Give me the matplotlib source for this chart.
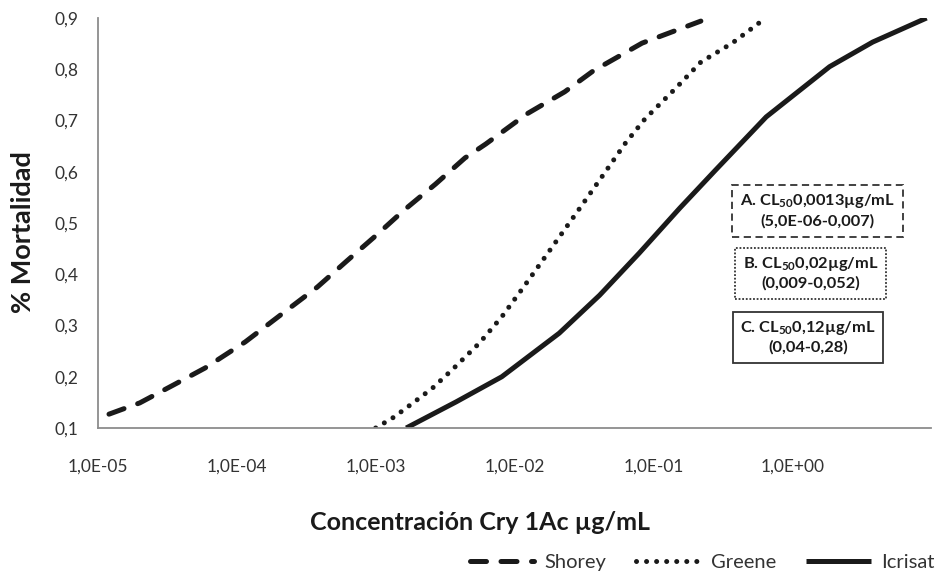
import matplotlib
matplotlib.use("Agg")
import matplotlib.pyplot as plt
from matplotlib.ticker import FixedLocator
from matplotlib.patches import Rectangle

plt.rcParams['font.family'] = ['Lato', 'DejaVu Sans']
plt.rcParams['mathtext.fontset'] = 'custom'
plt.rcParams['mathtext.rm'] = 'Lato'
plt.rcParams['mathtext.bf'] = 'Lato:bold'

# ---- data ----
shorey_x = [1.2e-5, 2.0e-5, 3.5e-5, 5.9e-5, 1.15e-4, 2.1e-4, 3.8e-4, 6.2e-4, 1.0e-3,
            1.6e-3, 2.7e-3, 4.4e-3, 6.2e-3, 1.23e-2, 2.3e-2, 3.7e-2, 8.3e-2, 0.22]
shorey_y = [0.127, 0.149, 0.184, 0.217, 0.268, 0.322, 0.375, 0.426, 0.475,
            0.525, 0.576, 0.627, 0.654, 0.713, 0.756, 0.797, 0.851, 0.894]

greene_x = [1.0e-3, 1.35e-3, 1.86e-3, 2.57e-3, 3.6e-3, 5.6e-3, 8.1e-3, 1.12e-2, 1.51e-2,
            2.8e-2, 4.6e-2, 6.3e-2, 8.7e-2, 0.145, 0.22, 0.37, 0.63]
greene_y = [0.100, 0.121, 0.149, 0.178, 0.215, 0.266, 0.317, 0.369, 0.418,
            0.520, 0.603, 0.656, 0.703, 0.763, 0.814, 0.851, 0.898]

icrisat_x = [1.66e-3, 3.8e-3, 8.1e-3, 2.1e-2, 4.1e-2, 7.9e-2, 0.155, 0.28,
             0.65, 1.86, 3.8, 9.3]
icrisat_y = [0.100, 0.151, 0.200, 0.285, 0.359, 0.441, 0.529, 0.603,
             0.707, 0.805, 0.853, 0.900]

x_ticks = [1e-5, 1e-4, 1e-3, 1e-2, 1e-1, 1e0]
x_tick_labels = ['1,0E-05', '1,0E-04', '1,0E-03', '1,0E-02', '1,0E-01', '1,0E+00']
y_ticks = [0.1, 0.2, 0.3, 0.4, 0.5, 0.6, 0.7, 0.8, 0.9]
y_tick_labels = ['0,1', '0,2', '0,3', '0,4', '0,5', '0,6', '0,7', '0,8', '0,9']

series_names = ['Shorey', 'Greene', 'Icrisat']
box_lines = [
    ("A. CL$_{\\mathbf{50}}$0,0013µg/mL", "(5,0E-06-0,007)"),
    ("B. CL$_{\\mathbf{50}}$0,02µg/mL", "(0,009-0,052)"),
    ("C. CL$_{\\mathbf{50}}$0,12µg/mL", "(0,04-0,28)"),
]

# ---- figure ----
W, H = 943, 571
fig = plt.figure(figsize=(W / 100, H / 100), dpi=100)
ax = fig.add_axes([98 / W, 1 - 428 / H, (931 - 98) / W, (428 - 18) / H])

lw = 3.6
col = '#1a1a1a'
l1, = ax.plot(shorey_x, shorey_y, color=col, lw=lw, dash_capstyle='round',
              linestyle=(0, (3.2, 2.9)), solid_joinstyle='round')
l2, = ax.plot(greene_x, greene_y, color=col, lw=lw, dash_capstyle='round',
              linestyle=(0, (0.01, 2.0)))
l3, = ax.plot(icrisat_x, icrisat_y, color=col, lw=lw, solid_capstyle='butt',
              solid_joinstyle='round')

ax.set_xscale('log')
ax.set_xlim(1e-5, 10)
ax.set_ylim(0.1, 0.9)
ax.xaxis.set_major_locator(FixedLocator(x_ticks))
ax.xaxis.set_minor_locator(FixedLocator([]))
ax.set_xticklabels(x_tick_labels)
ax.set_yticks(y_ticks)
ax.set_yticklabels(y_tick_labels)
ax.tick_params(axis='both', length=0, labelsize=12.5, colors='#333333')
ax.tick_params(axis='x', pad=22)
ax.tick_params(axis='y', pad=14)
for s in ['top', 'right']:
    ax.spines[s].set_visible(False)
for s in ['left', 'bottom']:
    ax.spines[s].set_color('#8c8c8c')
    ax.spines[s].set_linewidth(1.3)

fig.text(480 / W, 1 - 523 / H, 'Concentración Cry 1Ac µg/mL', fontsize=18,
         fontweight='bold', ha='center', va='center', color='#1a1a1a')
fig.text(23 / W, 1 - 232 / H, '% Mortalidad', fontsize=19.5, fontweight='bold',
         rotation=90, ha='center', va='center', color='#1a1a1a')

# annotation boxes
boxes = [(732, 185, 903, 237, (0, (4, 2.5))),
         (735, 248, 886, 299, (0, (1, 1))),
         (733, 312, 883, 363, 'solid')]
for (x0, y0, x1, y1, ls), (t1, t2) in zip(boxes, box_lines):
    r = Rectangle((x0 / W, 1 - y1 / H), (x1 - x0) / W, (y1 - y0) / H,
                  transform=fig.transFigure, fill=False, edgecolor='#333333',
                  lw=1.3, linestyle=ls)
    fig.add_artist(r)
    cx = (x0 + x1) / 2 / W
    h = (y1 - y0)
    fig.text(cx, 1 - (y0 + h * 0.31) / H, t1, fontsize=11.8, fontweight='bold',
             ha='center', va='center', color='#1a1a1a')
    fig.text(cx, 1 - (y0 + h * 0.70) / H, t2, fontsize=11.8, fontweight='bold',
             ha='center', va='center', color='#1a1a1a')

leg = fig.legend([l1, l2, l3], series_names, loc='center right',
                 bbox_to_anchor=(1.01, 1 - 562 / H), ncol=3, frameon=False,
                 fontsize=14.5, handlelength=3.2, handletextpad=0.5,
                 columnspacing=1.5, labelcolor='#333333')

fig.savefig('out.png', dpi=100)
